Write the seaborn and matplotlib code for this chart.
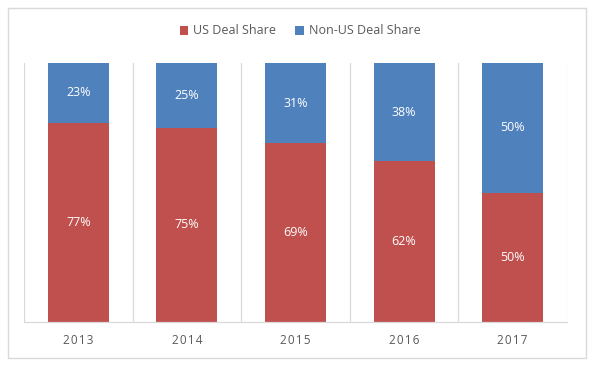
import matplotlib
matplotlib.use("Agg")
import matplotlib.pyplot as plt
import seaborn as sns
import pandas as pd
from matplotlib.patches import Rectangle, Patch

years = ["2013", "2014", "2015", "2016", "2017"]
us_share = [77, 75, 69, 62, 50]
non_us_share = [23, 25, 31, 38, 50]

sns.set_theme(style="white")
plt.rcParams['font.family'] = ['Open Sans', 'DejaVu Sans']

red = "#C0504D"
blue = "#4F81BD"
grey_txt = "#595959"
grid_c = "#D9D9D9"

df = pd.DataFrame({"year": years, "us": us_share, "non": non_us_share})
df["total"] = df["us"] + df["non"]

fig = plt.figure(figsize=(5.92, 3.65), dpi=100)
ax = fig.add_axes([24/592, 43/365, 543/592, 259/365])

sns.barplot(data=df, x="year", y="total", color=blue, width=0.56, ax=ax,
            saturation=1, linewidth=0)
sns.barplot(data=df, x="year", y="us", color=red, width=0.56, ax=ax,
            saturation=1, linewidth=0)

for i, (u, n) in enumerate(zip(us_share, non_us_share)):
    ax.text(i, u / 2, f"{u}%", ha="center", va="center", color="white", fontsize=9)
    ax.text(i, u + n / 2, f"{n}%", ha="center", va="center", color="white", fontsize=9)

ax.set_xlim(-0.5, 4.5)
ax.set_ylim(0, 100)
for xv in [-0.5, 0.5, 1.5, 2.5, 3.5, 4.5]:
    ax.axvline(xv, color=grid_c, linewidth=0.9, zorder=0)
for s in ["top", "left", "right"]:
    ax.spines[s].set_visible(False)
ax.spines["bottom"].set_color(grid_c)
ax.spines["bottom"].set_linewidth(0.9)
ax.set_yticks([])
ax.set_xlabel("")
ax.set_ylabel("")
ax.tick_params(axis="x", length=0, pad=9, labelsize=8.5, labelcolor=grey_txt)
ax.set_xticks(range(len(years)))
ax.set_xticklabels(["\u200a".join(list(y)) for y in years])

handles = [Patch(facecolor=red, edgecolor="none"), Patch(facecolor=blue, edgecolor="none")]
fig.legend(handles, ["US Deal Share", "Non-US Deal Share"], loc="center",
           bbox_to_anchor=(300/592, 1 - 31/365), ncol=2, frameon=False,
           fontsize=9, handlelength=0.7, handleheight=0.7, handletextpad=0.4,
           columnspacing=1.5, labelcolor=grey_txt)

fig.patches.append(Rectangle((7.5/592, 7.5/365), 578/592, 350/365, transform=fig.transFigure,
                             fill=False, edgecolor=grid_c, linewidth=1))

fig.savefig("out.png", dpi=100)
